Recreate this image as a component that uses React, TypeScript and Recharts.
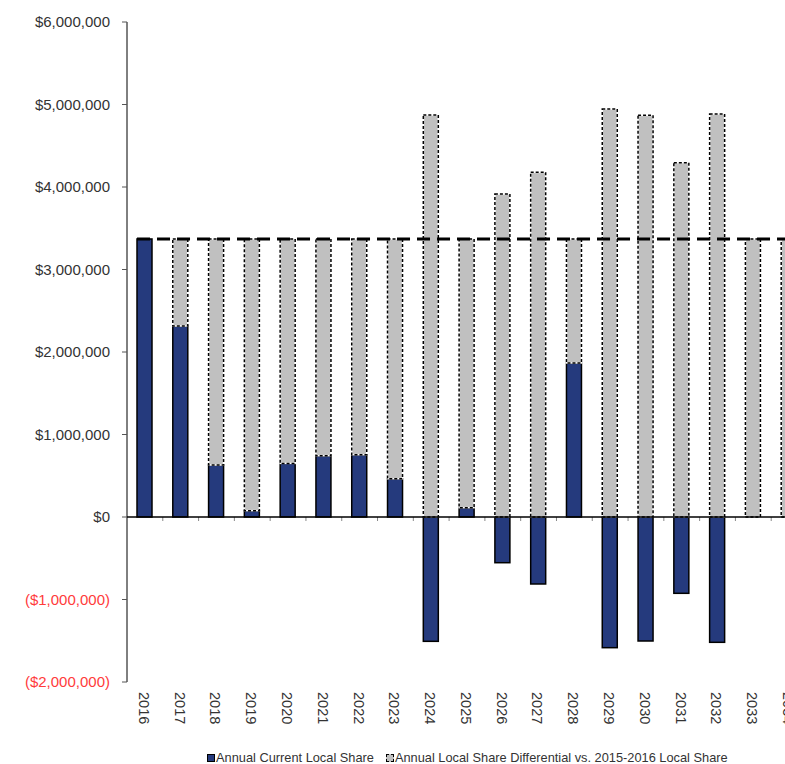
import React from 'react';
import { BarChart, Bar, XAxis, YAxis, ReferenceLine, Legend } from 'recharts';

// values
const years = ['2016', '2017', '2018', '2019', '2020', '2021', '2022', '2023', '2024', '2025', '2026', '2027', '2028', '2029', '2030', '2031', '2032', '2033', '2034'];
const currentShare = [3370000, 2315000, 630000, 77000, 650000, 743000, 755000, 464000, -1507000, 113000, -554000, -812000, 1867000, -1584000, -1503000, -925000, -1519000, 0, 0];
const shareDifferential = [0, 1055000, 2740000, 3293000, 2720000, 2627000, 2615000, 2906000, 4873000, 3257000, 3915000, 4178000, 1503000, 4945000, 4869000, 4295000, 4885000, 3370000, 3370000];
const baseShare = 3370000;
const yTicks = [-2000000, -1000000, 0, 1000000, 2000000, 3000000, 4000000, 5000000, 6000000];

const data = years.map((year, i) => ({
  year,
  current: currentShare[i],
  differential: shareDifferential[i],
}));

const FONT = '"Liberation Sans", Arial, sans-serif';

const fmtMoney = (v: number) => {
  const s = '$' + Math.abs(v).toLocaleString('en-US');
  return v < 0 ? `(${s})` : s;
};

const norm = (p: any) => {
  const y = Math.min(p.y, p.y + p.height);
  const h = Math.abs(p.height);
  return { x: p.x, y, w: p.width, h };
};

const CurrentShape = (p: any) => {
  const { x, y, w, h } = norm(p);
  if (!(h > 0.5)) return null;
  return <rect x={x} y={y} width={w} height={h} fill="#253A7D" stroke="#000" strokeWidth={1.5} />;
};

const DiffShape = (p: any) => {
  const { x, y, w, h } = norm(p);
  if (!(h > 0.5)) return null;
  return (
    <g>
      <rect x={x} y={y} width={w} height={h} fill="#C0C0C0" stroke="#fff" strokeWidth={1.5} />
      <rect x={x} y={y} width={w} height={h} fill="none" stroke="#000" strokeWidth={1.5} strokeDasharray="3 2" />
    </g>
  );
};

const ZeroAxis = (p: any) => {
  const step = (p.x2 - p.x1) / years.length;
  return (
    <g>
      {years.map((_, i) => (
        <line key={i} x1={p.x1 + (i + 1) * step} x2={p.x1 + (i + 1) * step} y1={p.y1} y2={p.y1 + 4} stroke="#888" strokeWidth={1} />
      ))}
      <line x1={p.x1} x2={p.x2} y1={p.y1} y2={p.y2} stroke="#000" strokeWidth={1.5} />
    </g>
  );
};

const BaseLine = (p: any) => {
  const step = (p.x2 - p.x1) / years.length;
  return <line x1={p.x1 + step * 0.28} x2={p.x2} y1={p.y1} y2={p.y2} stroke="#000" strokeWidth={3} strokeDasharray="13 7" />;
};

const YTick = (props: any) => {
  const { x, y, payload } = props;
  return (
    <text x={x} y={y} dy="0.355em" textAnchor="end" fontSize={15} fontFamily={FONT} fill={payload.value < 0 ? '#FF3B3B' : '#333'}>
      {fmtMoney(payload.value)}
    </text>
  );
};

const XTick = (props: any) => {
  const { x, y, payload } = props;
  return (
    <text transform={`translate(${x},${y}) rotate(90)`} dy="0.42em" textAnchor="start" fontSize={14.5} fontFamily={FONT} fill="#333">
      {payload.value}
    </text>
  );
};

const LegendBox = () => (
  <div style={{ fontFamily: FONT, fontSize: 12.8, color: '#333', whiteSpace: 'nowrap', paddingTop: 9, lineHeight: '14px' }}>
    <span style={{ display: 'inline-block', width: 6, height: 6, background: '#253A7D', border: '1px solid #000', marginRight: 1 }} />
    <span>Annual Current Local Share</span>
    <span style={{ display: 'inline-block', width: 12 }} />
    <span style={{ display: 'inline-block', width: 6, height: 6, background: '#C0C0C0', border: '1px dashed #000', marginRight: 1 }} />
    <span>Annual Local Share Differential vs. 2015-2016 Local Share</span>
  </div>
);

export default function App() {
  return (
    <div style={{ position: 'absolute', left: 0, top: 0, width: 785, height: 764, overflow: 'hidden', background: '#fff' }}>
      <BarChart
        width={935}
        height={764}
        data={data}
        stackOffset="sign"
        barSize={15}
        margin={{ top: 22, right: 128, left: 0, bottom: 0 }}
      >
        <XAxis dataKey="year" interval={0} axisLine={false} tickLine={false} tickSize={0} tickMargin={10} height={60} tick={<XTick />} />
        <YAxis
          width={127}
          domain={[-2000000, 6000000]}
          ticks={yTicks}
          interval={0}
          axisLine={{ stroke: '#000', strokeWidth: 1 }}
          tickLine={{ stroke: '#555' }}
          tickSize={5}
          tickMargin={12}
          tick={<YTick />}
        />
        <Bar dataKey="current" name="Annual Current Local Share" stackId="a" shape={CurrentShape} isAnimationActive={false} />
        <Bar dataKey="differential" name="Annual Local Share Differential vs. 2015-2016 Local Share" stackId="a" shape={DiffShape} isAnimationActive={false} />
        <ReferenceLine y={0} shape={ZeroAxis} />
        <ReferenceLine y={baseShare} shape={BaseLine} />
        <Legend verticalAlign="bottom" height={22} content={<LegendBox />} wrapperStyle={{ left: 207, width: 570, bottom: 0, height: 22 }} />
      </BarChart>
    </div>
  );
}
